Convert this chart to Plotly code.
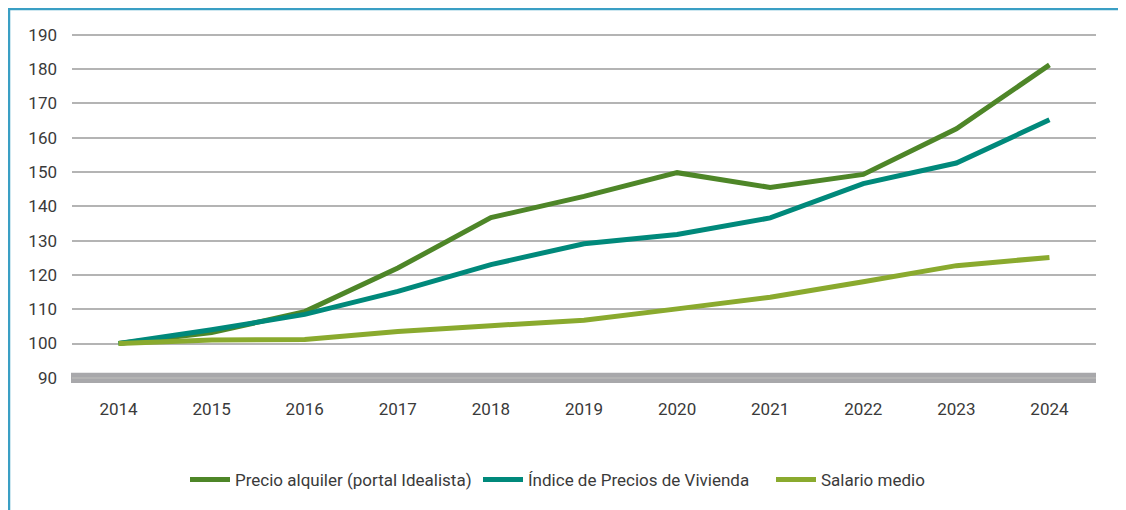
import plotly.graph_objects as go

years = ["2014", "2015", "2016", "2017", "2018", "2019", "2020", "2021", "2022", "2023", "2024"]
precio_alquiler = [100, 103.2, 109.3, 122.0, 136.7, 142.9, 149.8, 145.5, 149.3, 162.6, 181.2]
indice_precios = [100, 104.0, 108.5, 115.2, 123.0, 129.1, 131.8, 136.6, 146.6, 152.6, 165.2]
salario_medio = [100, 101.0, 101.2, 103.5, 105.2, 106.8, 110.1, 113.5, 118.0, 122.7, 125.1]

names = ["Precio alquiler (portal Idealista)", "Índice de Precios de Vivienda", "Salario medio"]
colors = ["#4e8628", "#00897b", "#8aaa2e"]
series = [precio_alquiler, indice_precios, salario_medio]
y_ticks = [90, 100, 110, 120, 130, 140, 150, 160, 170, 180, 190]

FONT = "Roboto, sans-serif"
FS = 17

fig = go.Figure()
for n, c, s in zip(names, colors, series):
    fig.add_trace(go.Scatter(x=years, y=s, name=n, mode="lines",
                             line=dict(color=c, width=5), hoverinfo="skip"))

# the page adds an 8px body margin, so the figure is 8px smaller than the window
W, H = 1118, 502
L, R, T, B = 64, 30, 25, 127
pw = W - L - R
ph = H - T - B

def px_x(p):
    return (p - L) / pw

def px_y(p):
    return (H - B - p) / ph

shapes = [
    dict(type="rect", xref="paper", yref="y", x0=px_x(63), x1=px_x(1088), y0=88.5, y1=91.5,
         fillcolor="#a8a8ab", line=dict(width=0), layer="below"),
    dict(type="line", xref="paper", yref="paper", x0=px_x(0), x1=px_x(W), y0=px_y(1), y1=px_y(1),
         line=dict(color="#3a9fc4", width=2.5)),
    dict(type="line", xref="paper", yref="paper", x0=px_x(1), x1=px_x(1), y0=px_y(0), y1=px_y(H),
         line=dict(color="#3a9fc4", width=2.5)),
]

fig.update_layout(
    width=W, height=H,
    margin=dict(l=L, r=R, t=T, b=B, autoexpand=False),
    paper_bgcolor="white", plot_bgcolor="white",
    font=dict(family=FONT, size=FS, color="#3a3a3a"),
    showlegend=True,
    legend=dict(orientation="h", xref="paper", x=px_x(177), xanchor="left",
                yref="paper", y=px_y(472), yanchor="middle",
                font=dict(family=FONT, size=FS, color="#3a3a3a"),
                itemwidth=40, entrywidth=238, traceorder="normal"),
    shapes=shapes,
    xaxis=dict(type="category", range=[-0.5, 10.5], showgrid=False, zeroline=False, showline=False,
               ticks="", ticklabelstandoff=14, tickfont=dict(size=FS), automargin=False),
    yaxis=dict(range=[88.5, 190.5], tickvals=y_ticks, showgrid=True, gridcolor="#b4b4b4",
               gridwidth=1.5, zeroline=False, showline=False, ticks="",
               ticklabelstandoff=14, tickfont=dict(size=FS), automargin=False),
)

fig.write_html("out.html", config={"displayModeBar": False})
